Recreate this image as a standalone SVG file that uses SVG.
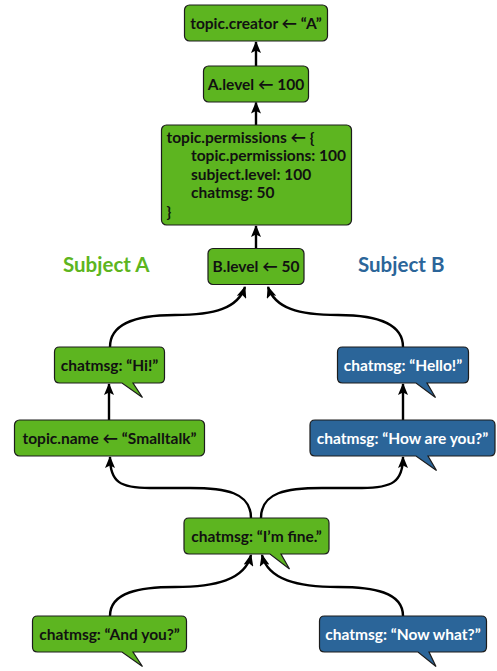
<svg xmlns="http://www.w3.org/2000/svg" width="497" height="671" viewBox="0 0 497 671">
<defs>
<marker id="arr" viewBox="0 0 12 10" refX="11" refY="5" markerWidth="12" markerHeight="10" markerUnits="userSpaceOnUse" orient="auto">
<path d="M0,0 L12,5 L0,10 L2.5,5 Z" fill="#000"/>
</marker>
<style>
.g{fill:#5db520;stroke:#1c1c1c;stroke-width:1.2}
.b{fill:#2b6599;stroke:#1c1c1c;stroke-width:1.2}
.t{font-family:Lato,"Open Sans","DejaVu Sans",sans-serif;font-weight:bold;font-size:15.5px;fill:#111}
.tw{font-family:Lato,"Open Sans","DejaVu Sans",sans-serif;font-weight:bold;font-size:15.5px;fill:#fff}
.c{text-anchor:middle}
.e{fill:none;stroke:#000;stroke-width:2.4;marker-end:url(#arr)}
.h{font-family:Lato,"Open Sans","DejaVu Sans",sans-serif;font-weight:bold;font-size:20.5px}
</style>
</defs>
<g id="connectors">
<path class="e" d="M256,66 V42"/>
<path class="e" d="M256,125 V102.5"/>
<path class="e" d="M256,248 V226"/>
<path class="e" d="M110,347 C110,322 140,315 175,315 C215,315 238,308 245,287"/>
<path class="e" d="M403,347 C403,322 373,315 338,315 C298,315 275,308 268,287"/>
<path class="e" d="M109,420 V384"/>
<path class="e" d="M403,420 V384"/>
<path class="e" d="M251,518 C251,492 225,488 190,488 L150,488 C120,488 110,482 110,457"/>
<path class="e" d="M261,518 C261,492 287,488 322,488 L362,488 C392,488 403,482 403,457"/>
<path class="e" d="M110,616 C110,592 140,587 175,587 C215,587 245,580 251,555"/>
<path class="e" d="M403,616 C403,592 373,587 338,587 C298,587 268,580 262,555"/>
</g>
<g id="topic-creator">
<rect class="g" x="184.5" y="5" width="143" height="36" rx="5"/>
<text class="t c" x="256" y="28.5">topic.creator ← “A”</text>
</g>
<g id="a-level">
<rect class="g" x="203.5" y="66" width="105" height="36" rx="5"/>
<text class="t c" x="256" y="89.5">A.level ← 100</text>
</g>
<g id="topic-permissions">
<rect class="g" x="161.5" y="125" width="190" height="100" rx="5"/>
<text class="t" x="166.5" y="142.5">topic.permissions ← {</text>
<text class="t" x="191" y="161">topic.permissions: 100</text>
<text class="t" x="191" y="179.5">subject.level: 100</text>
<text class="t" x="191" y="198">chatmsg: 50</text>
<text class="t" x="166.5" y="216.5">}</text>
</g>
<g id="b-level">
<rect class="g" x="208" y="248.5" width="96" height="36" rx="5"/>
<text class="t c" x="256" y="272">B.level ← 50</text>
</g>
<g id="subject-a">
<text class="h" x="63" y="272" fill="#5db520">Subject A</text>
</g>
<g id="subject-b">
<text class="h" x="358" y="272" fill="#2b6599">Subject B</text>
</g>
<g id="msg-hi">
<path class="g" d="M59.5,347 H159.5 Q164.5,347 164.5,352 V378 Q164.5,383 159.5,383 H133 L142.5,397.5 L122,383 H59.5 Q54.5,383 54.5,378 V352 Q54.5,347 59.5,347 Z"/>
<text class="t c" x="109.5" y="370.5">chatmsg: “Hi!”</text>
</g>
<g id="msg-hello">
<path class="b" d="M342.5,347 H463.5 Q468.5,347 468.5,352 V378 Q468.5,383 463.5,383 H427 L435.5,397.5 L416,383 H342.5 Q337.5,383 337.5,378 V352 Q337.5,347 342.5,347 Z"/>
<text class="tw c" x="403" y="370.5">chatmsg: “Hello!”</text>
</g>
<g id="topic-name">
<rect class="g" x="14.5" y="420" width="190" height="36" rx="5"/>
<text class="t c" x="109.5" y="443.5">topic.name ← “Smalltalk”</text>
</g>
<g id="msg-how">
<path class="b" d="M315,420 H490 Q495,420 495,425 V451 Q495,456 490,456 H428 L436.5,470.5 L416,456 H315 Q310,456 310,451 V425 Q310,420 315,420 Z"/>
<text class="tw c" x="402.5" y="443.5">chatmsg: “How are you?”</text>
</g>
<g id="msg-fine">
<path class="g" d="M189,518 H324 Q329,518 329,523 V549 Q329,554 324,554 H281 L289.5,569 L270,554 H189 Q184,554 184,549 V523 Q184,518 189,518 Z"/>
<text class="t c" x="256.5" y="541.5">chatmsg: “I’m fine.”</text>
</g>
<g id="msg-andyou">
<path class="g" d="M37.5,616 H181.5 Q186.5,616 186.5,621 V647 Q186.5,652 181.5,652 H133 L142.5,666.5 L122,652 H37.5 Q32.5,652 32.5,647 V621 Q32.5,616 37.5,616 Z"/>
<text class="t c" x="109.5" y="639.5">chatmsg: “And you?”</text>
</g>
<g id="msg-nowwhat">
<path class="b" d="M324.5,616 H481.5 Q486.5,616 486.5,621 V647 Q486.5,652 481.5,652 H429 L436,666.5 L418,652 H324.5 Q319.5,652 319.5,647 V621 Q319.5,616 324.5,616 Z"/>
<text class="tw c" x="403" y="639.5">chatmsg: “Now what?”</text>
</g>
</svg>
